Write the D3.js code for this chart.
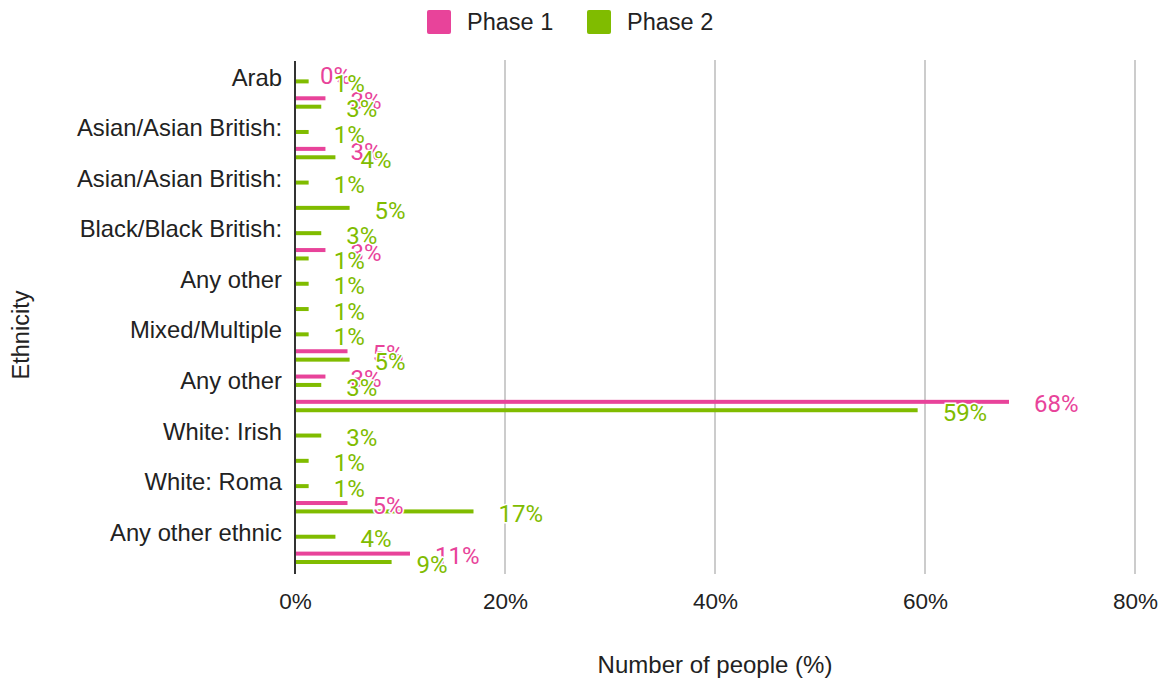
<!DOCTYPE html>
<html>
<head>
<meta charset="utf-8">
<script src="https://cdn.jsdelivr.net/npm/d3@7"></script>
<style>
  body { margin: 0; background: #fff; }
</style>
</head>
<body>
<div id="div_template"></div>
<script>
// *****************************************************************************
// data
// *****************************************************************************

var categories = [
  "Arab",
  "Asian/Asian British: Bangladeshi",
  "Asian/Asian British: Chinese",
  "Asian/Asian British: Indian",
  "Asian/Asian British: Pakistani",
  "Any other Asian background",
  "Black/Black British: African",
  "Black/Black British: Caribbean",
  "Any other Black background",
  "Mixed/Multiple: White and Asian",
  "Mixed/Multiple: White and Black African",
  "Mixed/Multiple: White and Black Caribbean",
  "Any other Mixed background",
  "White: English/Welsh/Scottish/Northern Irish/British",
  "White: Irish",
  "White: Gypsy or Irish Traveller",
  "White: Roma",
  "Any other White background",
  "Any other ethnic group",
  "Prefer not to say",
];

// labels as the chart shows them (every second row, cut off)
var tickLabels = [
  "Arab",
  "Asian/Asian British:",
  "Asian/Asian British:",
  "Black/Black British:",
  "Any other",
  "Mixed/Multiple",
  "Any other",
  "White: Irish",
  "White: Roma",
  "Any other ethnic",
];

var seriesNames = ["Phase 1", "Phase 2"];
var seriesColors = ["#e8439a", "#80bc00"];

var phase1 = [0, 2.9, null, 2.9, null, null, null, 2.9, null, null, null, 5.0, 2.9, 68.0, null, null, null, 5.0, null, 10.95];
var phase2 = [1.3, 2.5, 1.3, 3.85, 1.3, 5.2, 2.5, 1.3, 1.3, 1.3, 1.3, 5.2, 2.5, 59.3, 2.5, 1.3, 1.3, 17.0, 3.85, 9.2];

var xTicks = [0, 20, 40, 60, 80];

// *****************************************************************************
// dimensions
// *****************************************************************************

var W = 1169, H = 682;
var margin = { top: 61, right: 34, bottom: 108, left: 295 };
var width = W - margin.left - margin.right,
  height = H - margin.top - margin.bottom;

var axisFont = "'Liberation Sans', Arial, sans-serif";
var labelFont = "Roboto, 'Liberation Sans', sans-serif";

var svgRoot = d3
  .select("#div_template")
  .append("svg")
  .attr("width", W)
  .attr("height", H);

svgRoot.append("rect").attr("width", W).attr("height", H).attr("fill", "white");

var svg = svgRoot
  .append("g")
  .attr("transform", "translate(" + margin.left + "," + margin.top + ")");

// *****************************************************************************
// scales
// *****************************************************************************

var x = d3.scaleLinear().domain([0, 80]).range([0, width]);

var y = d3
  .scaleBand()
  .domain(categories)
  .range([0, height])
  .paddingInner(0)
  .paddingOuter(0.14);

var ySub = d3.scalePoint().domain(seriesNames).range([-4.2, 4.2]);

// *****************************************************************************
// gridlines
// *****************************************************************************

svg
  .selectAll("line.grid")
  .data(xTicks.filter(function (d) { return d > 0; }))
  .enter()
  .append("line")
  .attr("class", "grid")
  .attr("x1", function (d) { return x(d); })
  .attr("x2", function (d) { return x(d); })
  .attr("y1", -1)
  .attr("y2", height)
  .attr("stroke", "#cccccc")
  .attr("stroke-width", 2);

// *****************************************************************************
// X axis
// *****************************************************************************

var xAxis = svg
  .append("g")
  .attr("transform", "translate(0," + height + ")")
  .call(
    d3
      .axisBottom(x)
      .tickValues(xTicks)
      .tickSize(0)
      .tickPadding(19)
      .tickFormat(function (d) { return d + "%"; })
  );
xAxis.select(".domain").remove();
xAxis
  .selectAll("text")
  .attr("font-family", axisFont)
  .attr("font-size", "22.5px")
  .attr("fill", "#222");

// *****************************************************************************
// Y axis
// *****************************************************************************

var yAxis = svg.append("g").call(
  d3
    .axisLeft(y)
    .tickValues(categories.filter(function (d, i) { return i % 2 == 0; }))
    .tickSize(0)
    .tickPadding(13)
    .tickFormat(function (d) {
      return tickLabels[categories.indexOf(d) / 2];
    })
);
yAxis.select(".domain").remove();
yAxis
  .selectAll("text")
  .attr("font-family", axisFont)
  .attr("font-size", "23.8px")
  .attr("fill", "#222")
  .attr("dy", "0.35em");

// *****************************************************************************
// bars
// *****************************************************************************

var allSeries = [phase1, phase2];

function seriesRows(values) {
  return values
    .map(function (v, i) { return { cat: categories[i], value: v }; })
    .filter(function (d) { return d.value !== null; });
}

allSeries.forEach(function (values, s) {
  svg
    .append("g")
    .selectAll("rect")
    .data(seriesRows(values))
    .enter()
    .append("rect")
    .attr("x", x(0))
    .attr("y", function (d) { return y(d.cat) + y.bandwidth() / 2 + ySub(seriesNames[s]) - 2; })
    .attr("width", function (d) { return x(d.value) - x(0); })
    .attr("height", 4)
    .attr("fill", seriesColors[s]);
});

// zero line
svg
  .append("line")
  .attr("x1", x(0))
  .attr("x2", x(0))
  .attr("y1", 0)
  .attr("y2", height)
  .attr("stroke", "#333")
  .attr("stroke-width", 2);

// *****************************************************************************
// data labels (white halo)
// *****************************************************************************

allSeries.forEach(function (values, s) {
  svg
    .append("g")
    .selectAll("text")
    .data(seriesRows(values))
    .enter()
    .append("text")
    .attr("x", function (d) { return x(d.value) + 25; })
    .attr("y", function (d) { return y(d.cat) + y.bandwidth() / 2 + ySub(seriesNames[s]) + 2; })
    .attr("dy", "0.36em")
    .attr("font-family", labelFont)
    .attr("font-size", "24px")
    .attr("fill", seriesColors[s])
    .attr("stroke", "white")
    .attr("stroke-width", 3)
    .attr("paint-order", "stroke")
    .text(function (d) { return Math.round(d.value) + "%"; });
});

// *****************************************************************************
// titles
// *****************************************************************************

svgRoot
  .append("text")
  .attr("x", margin.left + width / 2)
  .attr("y", 673)
  .attr("text-anchor", "middle")
  .attr("font-family", axisFont)
  .attr("font-size", "24px")
  .attr("fill", "#222")
  .text("Number of people (%)");

svgRoot
  .append("text")
  .attr("transform", "translate(29,335) rotate(-90)")
  .attr("text-anchor", "middle")
  .attr("font-family", axisFont)
  .attr("font-size", "23.5px")
  .attr("fill", "#222")
  .text("Ethnicity");

// *****************************************************************************
// legend
// *****************************************************************************

var legendX = [427, 587];

var legend = svgRoot
  .selectAll("g.legend")
  .data(seriesNames)
  .enter()
  .append("g")
  .attr("class", "legend")
  .attr("transform", function (d, i) { return "translate(" + legendX[i] + ",10)"; });

legend
  .append("rect")
  .attr("width", 24)
  .attr("height", 24)
  .attr("rx", 2)
  .attr("fill", function (d, i) { return seriesColors[i]; });

legend
  .append("text")
  .attr("x", 40)
  .attr("y", 12)
  .attr("dy", "0.35em")
  .attr("font-family", axisFont)
  .attr("font-size", "23.5px")
  .attr("fill", "#222")
  .text(function (d) { return d; });
</script>
</body>
</html>
